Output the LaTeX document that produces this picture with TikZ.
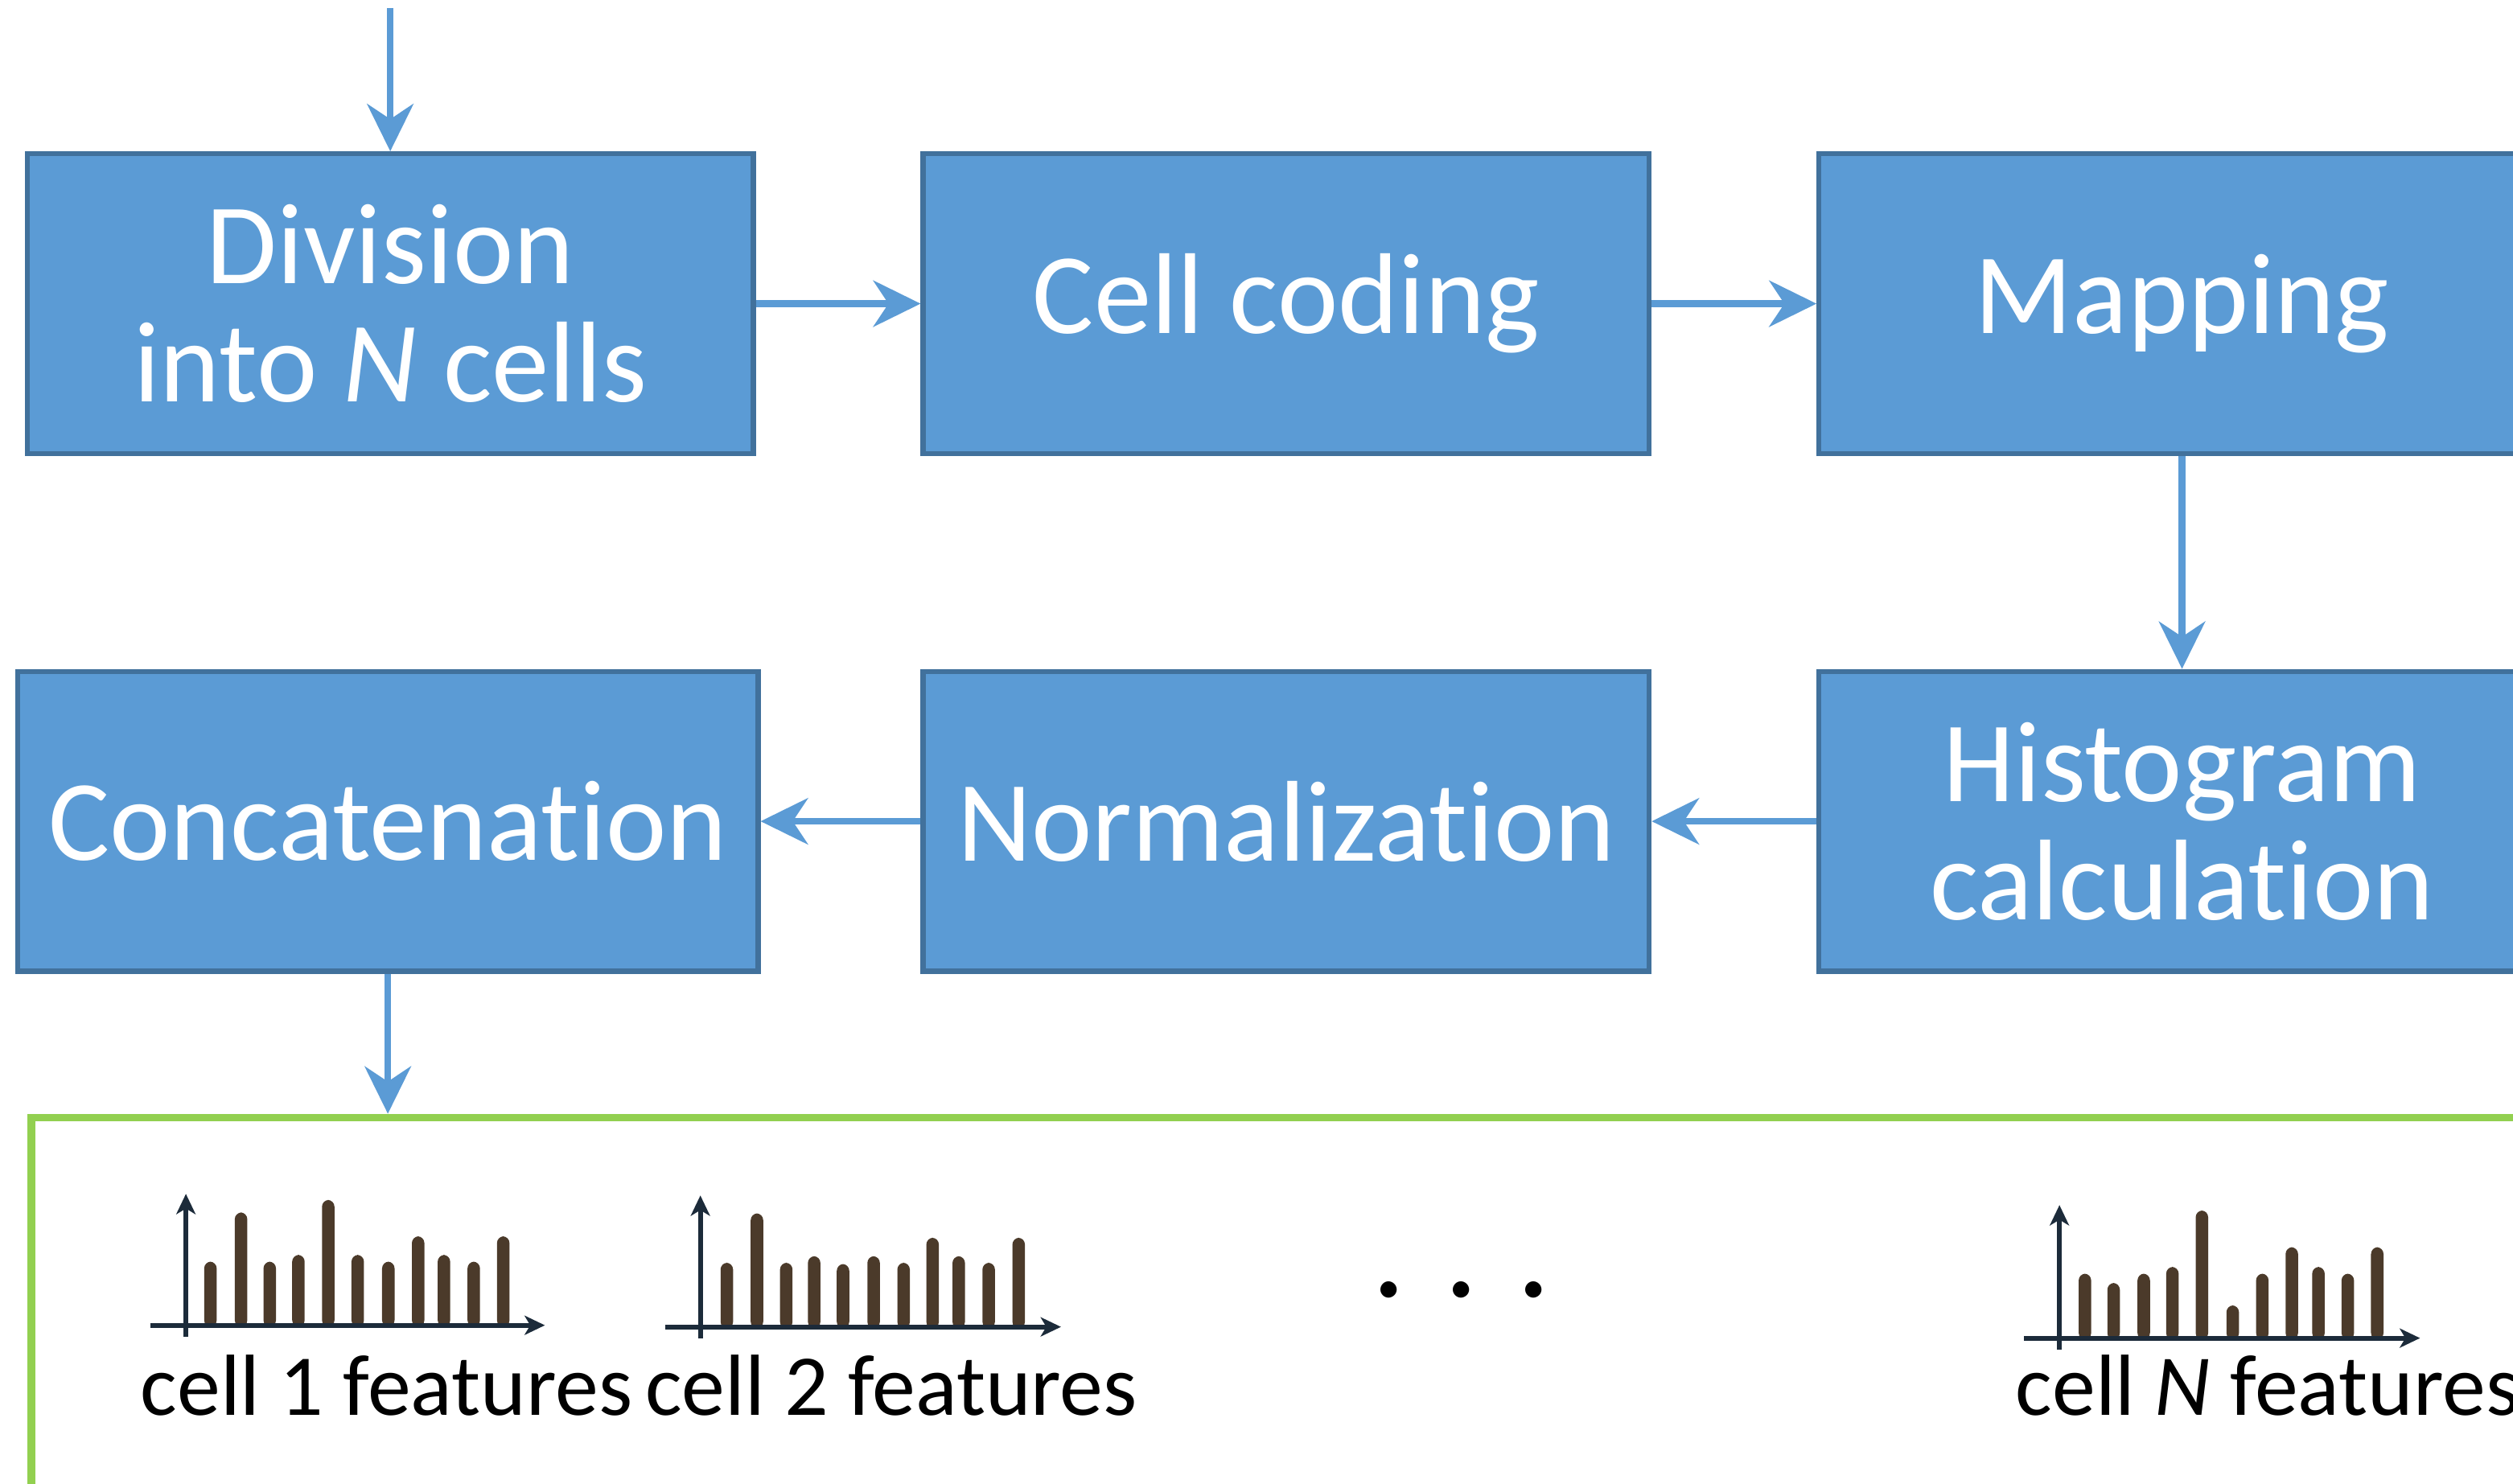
\documentclass[tikz,border=0pt]{standalone}
\usepackage{fontspec}
\setmainfont{Carlito}[RawFeature={-liga;-clig;-dlig}]
\usetikzlibrary{arrows.meta}
\definecolor{boxfill}{HTML}{5B9BD5}
\definecolor{boxline}{HTML}{41719C}
\definecolor{featgreen}{HTML}{92D050}
\definecolor{barbrown}{HTML}{4B3A2A}
\definecolor{axisnavy}{HTML}{1C2B3A}
\begin{document}
\begin{tikzpicture}[x=0.1mm,y=-0.1mm,
  stepbox/.style={draw=boxline, line width=0.9pt, fill=boxfill, text=white,
    minimum width=45.3mm, minimum height=18.7mm, align=center,
    font=\fontsize{20.4}{21}\selectfont, inner sep=0pt},
  flow/.style={draw=boxfill, line width=1.2pt, -{Stealth[length=8.4pt,width=8.2pt,inset=2.7pt]}},
  barfill/.style={fill=barbrown, rounded corners=1.2pt},
  axisline/.style={draw=axisnavy, line width=0.85pt, -{Stealth[length=3.6pt,width=3.4pt,inset=1pt]}},
  lbl/.style={font=\fontsize{15.4}{16}\selectfont, anchor=base west, inner sep=0pt}]
\useasboundingbox (0,0) rectangle (1568,926);
\clip (0,0) rectangle (1568,926);

% process boxes
\node[stepbox] (div)  at (243.5,189.5) {Division\\into \textit{N} cells};
\node[stepbox] (code) at (802.5,189.5) {Cell coding};
\node[stepbox] (map)  at (1361.5,189.5) {Mapping};
\node[stepbox, minimum width=46.2mm] (conc) at (242,512.5) {Concatenation};
\node[stepbox] (norm) at (802.5,512.5) {Normalization};
\node[stepbox] (hist) at (1361.5,512.5) {Histogram\\calculation};

% feature frame
\node[draw=featgreen, line width=1.4pt, minimum width=200mm, minimum height=30mm,
  anchor=north west, inner sep=0pt] (feat) at (17,695) {};

% connectors
\coordinate (in) at (243.5,5);
\draw[flow] (in) -- (div.north);
\draw[flow] (div.east) -- (code.west);
\draw[flow] (code.east) -- (map.west);
\draw[flow] (map.south) -- (hist.north);
\draw[flow] (hist.west) -- (norm.east);
\draw[flow] (norm.west) -- (conc.east);
\draw[flow] (conc.south) -- (conc.south |- feat.north);

% histogram 1
\foreach \x/\t in {131.3/787.3, 150.4/756.6, 168.3/787.3, 186.2/783.1, 204.8/748.8,
  223.2/783.1, 242.3/787.3, 260.9/771.5, 277.0/783.1, 295.6/787.3, 314.0/771.5}
  \fill[barfill] (\x-3.9,828) rectangle (\x+3.9,\t);
\draw[axisline] (94,827) -- (340,827);
\draw[axisline] (116,834) -- (116,745);

% histogram 2
\foreach \x/\t in {453.5/788.0, 472.3/757.2, 490.6/788.0, 508.0/783.9, 526.0/788.8,
  545.1/783.9, 563.8/788.0, 581.9/772.4, 598.2/783.9, 616.9/788.0, 635.6/772.4}
  \fill[barfill] (\x-3.9,829) rectangle (\x+3.9,\t);
\draw[axisline] (415,828) -- (662,828);
\draw[axisline] (437,835) -- (437,746);

% histogram N
\foreach \x/\t in {1300.9/794.8, 1318.8/800.6, 1337.6/794.8, 1355.5/790.6, 1373.9/755.4,
  1393.1/814.6, 1411.6/794.8, 1430.0/778.3, 1446.6/790.6, 1464.9/794.8, 1483.3/778.3}
  \fill[barfill] (\x-3.9,836) rectangle (\x+3.9,\t);
\draw[axisline] (1263,835) -- (1510,835);
\draw[axisline] (1285,842) -- (1285,752);

% labels
\node[lbl] (c1) at (87,883) {cell 1 features};
\node[lbl] (c2) at (402,883) {cell 2 features};
\node[lbl] (cN) at (1257,883) {cell \textit{N} features};
\node[font=\fontsize{24}{24}\selectfont, inner sep=0pt] (dots) at (912,805) {.\hspace{6.8pt}.\hspace{6.8pt}.};
\end{tikzpicture}
\end{document}
